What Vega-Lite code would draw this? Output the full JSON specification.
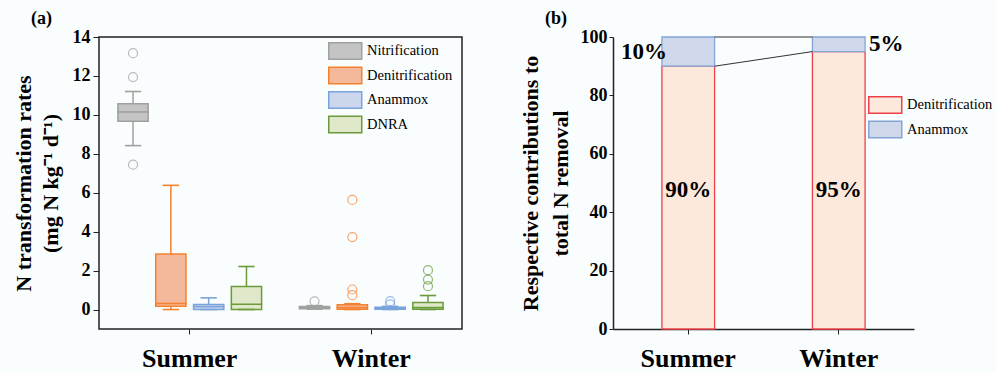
{
  "$schema": "https://vega.github.io/schema/vega-lite/v6.json",
  "background": "#f9fdfd",
  "padding": {"left": 12, "top": 10, "right": 5, "bottom": 2},
  "spacing": 55,
  "config": {
    "font": "Liberation Serif",
    "view": {"stroke": null},
    "style": {
      "guide-label": {"font": "Liberation Serif"},
      "guide-title": {"font": "Liberation Serif"},
      "group-title": {"font": "Liberation Serif"}
    },
    "axis": {
      "labelFont": "Liberation Serif", "labelFontWeight": "bold", "labelColor": "#000",
      "titleFont": "Liberation Serif", "titleFontWeight": "bold", "titleColor": "#000",
      "domainColor": "#222", "tickColor": "#222", "grid": false
    },
    "axisY": {"labelFontSize": 18, "titleFontSize": 22},
    "axisX": {"labelFontSize": 26, "labelAngle": 0, "labelPadding": 11, "tickSize": 5},
    "legend": {"labelFont": "Liberation Serif", "labelColor": "#000", "labelFontSize": 14},
    "title": {"font": "Liberation Serif", "fontWeight": "bold", "color": "#000", "fontSize": 18}
  },
  "datasets": {
    "boxes": [
      {"season": "Summer", "process": "Nitrification", "lo": 8.42, "q1": 9.67, "med": 10.15, "q3": 10.57, "hi": 11.2},
      {"season": "Summer", "process": "Denitrification", "lo": 0, "q1": 0.17, "med": 0.31, "q3": 2.85, "hi": 6.38},
      {"season": "Summer", "process": "Anammox", "lo": 0, "q1": 0.0, "med": 0.15, "q3": 0.26, "hi": 0.6},
      {"season": "Summer", "process": "DNRA", "lo": 0, "q1": 0.0, "med": 0.27, "q3": 1.18, "hi": 2.21},
      {"season": "Winter", "process": "Nitrification", "lo": 0.02, "q1": 0.04, "med": 0.1, "q3": 0.15, "hi": 0.2},
      {"season": "Winter", "process": "Denitrification", "lo": 0, "q1": 0.02, "med": 0.1, "q3": 0.24, "hi": 0.3},
      {"season": "Winter", "process": "Anammox", "lo": 0, "q1": 0.01, "med": 0.06, "q3": 0.12, "hi": 0.16},
      {"season": "Winter", "process": "DNRA", "lo": 0, "q1": 0.02, "med": 0.1, "q3": 0.36, "hi": 0.72}
    ],
    "outliers": [
      {"season": "Summer", "process": "Nitrification", "v": 13.17},
      {"season": "Summer", "process": "Nitrification", "v": 11.94},
      {"season": "Summer", "process": "Nitrification", "v": 7.44},
      {"season": "Winter", "process": "Nitrification", "v": 0.42},
      {"season": "Winter", "process": "Denitrification", "v": 5.63},
      {"season": "Winter", "process": "Denitrification", "v": 3.72},
      {"season": "Winter", "process": "Denitrification", "v": 1.03},
      {"season": "Winter", "process": "Denitrification", "v": 0.74},
      {"season": "Winter", "process": "Anammox", "v": 0.43},
      {"season": "Winter", "process": "Anammox", "v": 0.27},
      {"season": "Winter", "process": "DNRA", "v": 2.02},
      {"season": "Winter", "process": "DNRA", "v": 1.54},
      {"season": "Winter", "process": "DNRA", "v": 1.2}
    ],
    "frame": [{"a": "Summer", "b": "Winter", "lo": -1, "hi": 14}],
    "shares": [
      {"season": "Summer", "process": "Denitrification", "pct": 90},
      {"season": "Summer", "process": "Anammox", "pct": 10},
      {"season": "Winter", "process": "Denitrification", "pct": 95},
      {"season": "Winter", "process": "Anammox", "pct": 5}
    ],
    "connectors": [
      {"from": "Summer", "to": "Winter", "start": 90, "end": 95},
      {"from": "Summer", "to": "Winter", "start": 100, "end": 100}
    ],
    "labels": [
      {"season": "Summer", "label": "90%", "at": 47.5, "kind": "in"},
      {"season": "Winter", "label": "95%", "at": 47.5, "kind": "in"},
      {"season": "Summer", "label": "10%", "at": 95, "kind": "left"},
      {"season": "Winter", "label": "5%", "at": 97.5, "kind": "right"}
    ]
  },
  "hconcat": [
    {
      "width": 363,
      "height": 292,
      "title": {"text": "(a)", "anchor": "start", "frame": "group", "dx": -68, "offset": 0, "font": "Liberation Serif"},
      "layer": [
        {
          "data": {"name": "frame"},
          "mark": {"type": "rect", "fill": null, "fillOpacity": 0, "stroke": "#222", "strokeWidth": 1.5},
          "encoding": {
            "x": {"field": "a", "type": "nominal", "bandPosition": 0,
              "scale": {"domain": ["Summer", "Winter"], "paddingInner": 0, "paddingOuter": 0},
              "axis": {"title": null, "domain": false, "labelFont": "Liberation Serif"}, "title": null},
            "x2": {"field": "b", "bandPosition": 1},
            "y": {"field": "lo", "type": "quantitative",
              "scale": {"domain": [-1, 14], "nice": false, "zero": false},
              "axis": {"values": [0, 2, 4, 6, 8, 10, 12, 14], "tickSize": 6, "labelPadding": 3,
                "domain": false, "titlePadding": 10, "titleLineHeight": 27, "labelFont": "Liberation Serif"},
              "title": ["N transformation rates", "(mg N kg⁻¹ d⁻¹)"]},
            "y2": {"field": "hi"}
          }
        },
        {
          "data": {"name": "boxes"},
          "mark": {"type": "rule", "strokeWidth": 1.5},
          "encoding": {
            "x": {"field": "season", "type": "nominal"},
            "xOffset": {"field": "process", "type": "nominal",
              "scale": {"domain": ["Nitrification", "Denitrification", "Anammox", "DNRA"], "paddingInner": 0.2, "paddingOuter": 0.5}},
            "y": {"field": "lo", "type": "quantitative"},
            "y2": {"field": "hi"},
            "stroke": {"field": "process", "type": "nominal",
              "scale": {"domain": ["Nitrification", "Denitrification", "Anammox", "DNRA"], "range": ["#a0a0a0", "#f4822f", "#7ba3dc", "#6b9a3b"]}}
          }
        },
        {
          "data": {"name": "boxes"},
          "mark": {"type": "bar", "strokeWidth": 1.5},
          "encoding": {
            "x": {"field": "season", "type": "nominal"},
            "xOffset": {"field": "process", "type": "nominal"},
            "y": {"field": "q1", "type": "quantitative"},
            "y2": {"field": "q3"},
            "fill": {"field": "process", "type": "nominal",
              "scale": {"domain": ["Nitrification", "Denitrification", "Anammox", "DNRA"], "range": ["#c4c4c4", "#f4b99b", "#ccd6ec", "#dfe9c9"]},
              "legend": {"orient": "none", "legendX": 229, "legendY": 5, "title": null,
                "symbolType": "M-1,-1H3V1H-1Z", "symbolSize": 272, "symbolStrokeWidth": 1.5,
                "labelFont": "Liberation Serif", "labelFontSize": 14.5, "labelOffset": 21, "rowPadding": 0.5}},
            "stroke": {"field": "process", "type": "nominal"}
          }
        },
        {
          "data": {"name": "boxes"},
          "mark": {"type": "tick", "thickness": 0.3, "size": 30, "strokeWidth": 1.3, "fillOpacity": 0},
          "encoding": {
            "x": {"field": "season", "type": "nominal"},
            "xOffset": {"field": "process", "type": "nominal"},
            "y": {"field": "med", "type": "quantitative"},
            "stroke": {"field": "process", "type": "nominal"}
          }
        },
        {
          "data": {"name": "boxes"},
          "mark": {"type": "tick", "thickness": 0.3, "size": 15, "strokeWidth": 1.3, "fillOpacity": 0},
          "encoding": {
            "x": {"field": "season", "type": "nominal"},
            "xOffset": {"field": "process", "type": "nominal"},
            "y": {"field": "hi", "type": "quantitative"},
            "stroke": {"field": "process", "type": "nominal"}
          }
        },
        {
          "data": {"name": "boxes"},
          "mark": {"type": "tick", "thickness": 0.3, "size": 15, "strokeWidth": 1.3, "fillOpacity": 0},
          "encoding": {
            "x": {"field": "season", "type": "nominal"},
            "xOffset": {"field": "process", "type": "nominal"},
            "y": {"field": "lo", "type": "quantitative"},
            "stroke": {"field": "process", "type": "nominal"}
          }
        },
        {
          "data": {"name": "outliers"},
          "mark": {"type": "point", "shape": "circle", "filled": false, "size": 81, "strokeWidth": 1.2},
          "encoding": {
            "x": {"field": "season", "type": "nominal"},
            "xOffset": {"field": "process", "type": "nominal"},
            "y": {"field": "v", "type": "quantitative"},
            "stroke": {"field": "process", "type": "nominal"}
          }
        }
      ]
    },
    {
      "width": 301,
      "height": 292,
      "title": {"text": "(b)", "anchor": "start", "frame": "group", "dx": -68, "offset": 0, "font": "Liberation Serif"},
      "encoding": {
        "x": {
          "field": "season", "type": "nominal",
          "scale": {"domain": ["Summer", "Winter"], "paddingInner": 0.65, "paddingOuter": 0.325},
          "axis": {"title": null, "domainWidth": 1.5, "labelFont": "Liberation Serif"},
          "title": null
        }
      },
      "layer": [
        {
          "data": {"name": "shares"},
          "mark": {"type": "bar", "strokeWidth": 1.3},
          "encoding": {
            "y": {"field": "pct", "type": "quantitative", "stack": "zero",
              "scale": {"domain": [0, 100], "nice": false},
              "axis": {"values": [0, 20, 40, 60, 80, 100], "tickSize": 4, "labelPadding": 2,
                "domainWidth": 1.5, "titlePadding": 8, "titleLineHeight": 30, "labelFont": "Liberation Serif"},
              "title": ["Respective contributions to", "total N removal"]},
            "fill": {"field": "process", "type": "nominal",
              "scale": {"domain": ["Denitrification", "Anammox"], "range": ["#fde8dc", "#cfd7ea"]},
              "legend": {"orient": "none", "legendX": 255, "legendY": 59, "title": null,
                "symbolType": "M-1,-1H3V1H-1Z", "symbolSize": 272, "symbolStrokeWidth": 1.5,
                "labelFont": "Liberation Serif", "labelFontSize": 14.5, "labelOffset": 21, "rowPadding": 0.5}},
            "stroke": {"field": "process", "type": "nominal",
              "scale": {"domain": ["Denitrification", "Anammox"], "range": ["#ee4048", "#84a4d6"]}},
            "order": {"field": "process", "sort": "descending"}
          }
        },
        {
          "data": {"name": "connectors"},
          "mark": {"type": "rule", "color": "#333", "strokeWidth": 1},
          "encoding": {
            "x": {"field": "from", "type": "nominal", "bandPosition": 1},
            "x2": {"field": "to", "bandPosition": 0},
            "y": {"field": "start", "type": "quantitative"},
            "y2": {"field": "end"}
          }
        },
        {
          "data": {"name": "labels"},
          "transform": [{"filter": "datum.kind == 'in'"}],
          "mark": {"type": "text", "fontSize": 23, "fontWeight": "bold", "baseline": "middle", "color": "#000", "font": "Liberation Serif"},
          "encoding": {
            "y": {"field": "at", "type": "quantitative"},
            "text": {"field": "label"}
          }
        },
        {
          "data": {"name": "labels"},
          "transform": [{"filter": "datum.kind == 'left'"}],
          "mark": {"type": "text", "fontSize": 23, "fontWeight": "bold", "baseline": "middle", "align": "right", "dx": 5, "color": "#000", "font": "Liberation Serif"},
          "encoding": {
            "x": {"field": "season", "type": "nominal", "bandPosition": 0},
            "y": {"field": "at", "type": "quantitative"},
            "text": {"field": "label"}
          }
        },
        {
          "data": {"name": "labels"},
          "transform": [{"filter": "datum.kind == 'right'"}],
          "mark": {"type": "text", "fontSize": 23, "fontWeight": "bold", "baseline": "middle", "align": "left", "dx": 4, "color": "#000", "font": "Liberation Serif"},
          "encoding": {
            "x": {"field": "season", "type": "nominal", "bandPosition": 1},
            "y": {"field": "at", "type": "quantitative"},
            "text": {"field": "label"}
          }
        }
      ]
    }
  ],
  "resolve": {"scale": {"fill": "independent", "stroke": "independent", "x": "independent", "y": "independent"}, "legend": {"fill": "independent", "stroke": "independent"}}
}
